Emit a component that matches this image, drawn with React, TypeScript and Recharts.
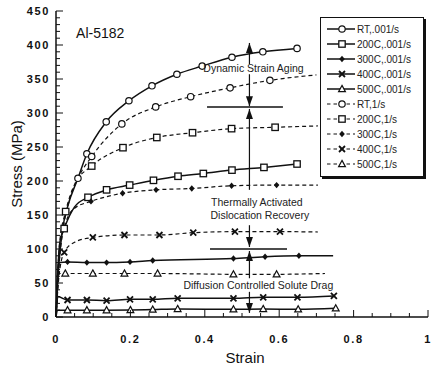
import React from 'react';
import {
  ComposedChart,
  Line,
  XAxis,
  YAxis,
  ReferenceLine,
  ReferenceDot,
  Label
} from 'recharts';

// [strain, stress (MPa), 1 = plotted symbol]
const RT_SLOW = [
  [0, 0, 0], [0.008, 80, 0], [0.018, 130, 0], [0.03, 160, 0], [0.059, 204, 1], [0.083, 240, 1],
  [0.135, 287, 1], [0.196, 318, 1], [0.258, 340, 1], [0.325, 357, 1], [0.393, 369, 1],
  [0.473, 382, 1], [0.556, 390, 1], [0.648, 395, 1]
];
const C200_SLOW = [
  [0, 0, 0], [0.005, 70, 0], [0.011, 112, 0], [0.022, 130, 1], [0.05, 162, 0], [0.086, 176, 1],
  [0.136, 187, 1], [0.198, 194, 1], [0.262, 201, 1], [0.328, 207, 1], [0.396, 211, 1],
  [0.473, 216, 1], [0.559, 220, 1], [0.648, 225, 1]
];
const C300_SLOW = [
  [0, 0, 0], [0.004, 60, 0], [0.01, 80, 0], [0.031, 81, 1], [0.083, 80, 1], [0.136, 80, 1],
  [0.199, 81, 1], [0.26, 83, 1], [0.477, 86, 1], [0.562, 88.7, 1], [0.653, 90, 1], [0.745, 90, 0]
];
const C400_SLOW = [
  [0, 0, 0], [0.005, 30, 0], [0.031, 25, 1], [0.083, 25, 1], [0.136, 24, 1], [0.199, 26, 1],
  [0.26, 26, 1], [0.327, 27.5, 1], [0.477, 27.5, 1], [0.557, 29, 1], [0.649, 29, 1], [0.747, 31, 1]
];
const C500_SLOW = [
  [0, 0, 0], [0.004, 10, 0], [0.031, 10, 1], [0.083, 10, 1], [0.136, 10, 1], [0.2, 10.3, 1],
  [0.26, 11, 1], [0.327, 11.8, 1], [0.477, 11.3, 1], [0.557, 11.8, 1], [0.651, 11.3, 1], [0.752, 12.8, 1]
];
const RT_FAST = [
  [0, 0, 0], [0.008, 75, 0], [0.018, 125, 0], [0.035, 170, 0], [0.06, 205, 0], [0.096, 236, 1],
  [0.177, 284, 1], [0.268, 309, 1], [0.362, 324, 1], [0.468, 337, 1], [0.575, 348, 1], [0.7, 356, 0]
];
const C200_FAST = [
  [0, 0, 0], [0.01, 110, 0], [0.026, 155, 1], [0.05, 195, 0], [0.096, 222, 1], [0.18, 249, 1],
  [0.271, 264, 1], [0.367, 271, 1], [0.472, 277, 1], [0.589, 279, 1], [0.704, 281, 0]
];
const C300_FAST = [
  [0, 0, 0], [0.008, 90, 0], [0.027, 140, 0], [0.05, 160, 0], [0.094, 170, 1], [0.179, 182, 1],
  [0.269, 187, 1], [0.365, 189, 1], [0.472, 193, 1], [0.593, 194, 1], [0.704, 194, 0]
];
const C400_FAST = [
  [0, 0, 0], [0.008, 60, 0], [0.022, 95, 1], [0.05, 110, 0], [0.099, 117, 1], [0.184, 120.6, 1],
  [0.278, 120.6, 1], [0.369, 124, 1], [0.481, 125.5, 1], [0.602, 125.5, 1], [0.704, 125, 0]
];
const C500_FAST = [
  [0, 0, 0], [0.006, 64, 0], [0.025, 64, 1], [0.099, 64, 1], [0.184, 64, 1], [0.273, 64, 1],
  [0.477, 62.8, 1], [0.593, 62.8, 1], [0.723, 64, 0]
];

const SERIES = [
  { name: 'RT,.001/s', pts: RT_SLOW, dashed: false, sym: 'circle' },
  { name: '200C,.001/s', pts: C200_SLOW, dashed: false, sym: 'square' },
  { name: '300C,.001/s', pts: C300_SLOW, dashed: false, sym: 'diamond' },
  { name: '400C,.001/s', pts: C400_SLOW, dashed: false, sym: 'cross' },
  { name: '500C,.001/s', pts: C500_SLOW, dashed: false, sym: 'triangle' },
  { name: 'RT,1/s', pts: RT_FAST, dashed: true, sym: 'circle' },
  { name: '200C,1/s', pts: C200_FAST, dashed: true, sym: 'square' },
  { name: '300C,1/s', pts: C300_FAST, dashed: true, sym: 'diamond' },
  { name: '400C,1/s', pts: C400_FAST, dashed: true, sym: 'cross' },
  { name: '500C,1/s', pts: C500_FAST, dashed: true, sym: 'triangle' }
];

const X_TICKS = [0, 0.05, 0.1, 0.15, 0.2, 0.25, 0.3, 0.35, 0.4, 0.45, 0.5, 0.55, 0.6, 0.65, 0.7, 0.75, 0.8, 0.85, 0.9, 0.95, 1];
const Y_LABELS = [0, 50, 100, 150, 200, 250, 300, 350, 400, 450];
const Y_TICKS = Array.from({ length: 46 }, (_, i) => i * 10);

// annotation: vertical arrows at one strain, [from, to] MPa with head at "to"
const ARROW_X = 0.52;
const ARROWS = [[372, 403], [357, 310], [187, 306], [135, 103], [57, 97], [37, 6]];
const BARS = [[0.406, 0.61, 309], [0.414, 0.621, 100]];
const NOTES = [
  { x: 0.531, y: 366, text: 'Dynamic Strain Aging' },
  { x: 0.54, y: 168, text: 'Thermally Activated' },
  { x: 0.548, y: 149, text: 'Dislocation Recovery' },
  { x: 0.544, y: 46, text: 'Diffusion Controlled Solute Drag' }
];

const INK = '#111';
const FONT = '"Liberation Sans", Arial, Helvetica, sans-serif';

const Sym = ({ kind, cx, cy }: { kind: string; cx: number; cy: number }) => {
  switch (kind) {
    case 'circle':
      return <circle cx={cx} cy={cy} r={3.2} fill="#fff" stroke={INK} strokeWidth={1.2} />;
    case 'square':
      return <rect x={cx - 3.2} y={cy - 3.2} width={6.4} height={6.4} fill="#fff" stroke={INK} strokeWidth={1.3} />;
    case 'diamond':
      return <path d={`M${cx},${cy - 3.2}L${cx + 2.8},${cy}L${cx},${cy + 3.2}L${cx - 2.8},${cy}Z`} fill={INK} />;
    case 'cross':
      return <path d={`M${cx - 3},${cy - 3}L${cx + 3},${cy + 3}M${cx - 3},${cy + 3}L${cx + 3},${cy - 3}`} stroke={INK} strokeWidth={1.8} />;
    default:
      return <path d={`M${cx},${cy - 3.6}L${cx + 3.4},${cy + 2.6}L${cx - 3.4},${cy + 2.6}Z`} fill="#fff" stroke={INK} strokeWidth={1.2} />;
  }
};

const isMajorX = (v: number) => Math.abs(v * 5 - Math.round(v * 5)) < 1e-6;

const LeftTick = ({ x, y, payload }: any) => {
  const major = payload.value % 50 === 0;
  return (
    <g>
      <line x1={x} x2={x + (major ? 7 : 4)} y1={y} y2={y} stroke={INK} />
      {major && (
        <text x={x - 6} y={y + 4} textAnchor="end" fontFamily={FONT} fontWeight="bold" fontSize={11} letterSpacing={1.6} fill={INK}>
          {payload.value}
        </text>
      )}
    </g>
  );
};

const RightTick = ({ x, y, payload }: any) => {
  const major = payload.value % 50 === 0;
  return <line x1={x} x2={x - (major ? 7 : 4)} y1={y} y2={y} stroke={INK} />;
};

const BottomTick = ({ x, y, payload }: any) => {
  const major = isMajorX(payload.value);
  return (
    <g>
      <line x1={x} x2={x} y1={y} y2={y - (major ? 7 : 4)} stroke={INK} />
      {major && (
        <text x={x} y={y + 26} textAnchor="middle" fontFamily={FONT} fontWeight="bold" fontSize={11} letterSpacing={1.6} fill={INK}>
          {payload.value === 0 ? '0' : payload.value === 1 ? '1' : payload.value}
        </text>
      )}
    </g>
  );
};

const TopTick = ({ x, y, payload }: any) => {
  const major = isMajorX(payload.value);
  return <line x1={x} x2={x} y1={y} y2={y + (major ? 7 : 4)} stroke={INK} />;
};

const Head = ({ cx, cy, up }: any) => {
  const d = up
    ? `M${cx},${cy}L${cx + 3.5},${cy + 10}L${cx - 3.5},${cy + 10}Z`
    : `M${cx},${cy}L${cx + 3.5},${cy - 10}L${cx - 3.5},${cy - 10}Z`;
  return <path d={d} fill={INK} />;
};

const LegendBox = () => (
  <div
    style={{
      position: 'absolute',
      left: 320,
      top: 17,
      width: 104,
      height: 160,
      border: `1.5px solid ${INK}`,
      boxShadow: `2px 2px 0 ${INK}`,
      background: '#fff',
      boxSizing: 'border-box'
    }}
  >
    <svg width={102} height={157}>
      {SERIES.map((s, i) => {
        const y = 11 + i * 15;
        return (
          <g key={s.name}>
            <line x1={6} x2={34} y1={y} y2={y} stroke={INK} strokeWidth={s.dashed ? 1.2 : 1.5} strokeDasharray={s.dashed ? '3.5 3' : undefined} />
            <Sym kind={s.sym} cx={21} cy={y} />
            <text x={36} y={y + 3.5} fontFamily={FONT} fontSize={10} fill="#222">{s.name}</text>
          </g>
        );
      })}
    </svg>
  </div>
);

export default function App() {
  return (
    <div style={{ position: 'absolute', left: 0, top: 0, width: 441, height: 369, background: '#fff' }}>
      <ComposedChart width={441} height={369} margin={{ top: 11, right: 13, bottom: 0, left: 0 }}>
        <XAxis
          xAxisId={0}
          type="number"
          dataKey="strain"
          domain={[0, 1]}
          ticks={X_TICKS}
          interval={0}
          height={52}
          tickSize={0}
          tickMargin={0}
          tickLine={false}
          tick={<BottomTick />}
          axisLine={{ stroke: INK, strokeWidth: 1.5 }}
        >
          <Label
            content={({ viewBox }: any) => (
              <text x={viewBox.x + viewBox.width / 2 + 3} y={viewBox.y + 46} textAnchor="middle" fontFamily={FONT} fontSize={15} fill={INK}>
                Strain
              </text>
            )}
          />
        </XAxis>
        <XAxis
          xAxisId="t"
          orientation="top"
          type="number"
          domain={[0, 1]}
          ticks={X_TICKS}
          interval={0}
          height={0}
          tickSize={0}
          tickMargin={0}
          tickLine={false}
          tick={<TopTick />}
          axisLine={{ stroke: INK, strokeWidth: 1.5 }}
        />
        <YAxis
          yAxisId={0}
          type="number"
          domain={[0, 450]}
          ticks={Y_TICKS}
          interval={0}
          width={56}
          tickSize={0}
          tickMargin={0}
          tickLine={false}
          tick={<LeftTick />}
          axisLine={{ stroke: INK, strokeWidth: 1.5 }}
        >
          <Label
            content={({ viewBox }: any) => {
              const cx = 16;
              const cy = viewBox.y + viewBox.height / 2;
              return (
                <text x={cx} y={cy} transform={`rotate(-90 ${cx} ${cy})`} textAnchor="middle" dominantBaseline="central" fontFamily={FONT} fontSize={15} fill={INK}>
                  Stress (MPa)
                </text>
              );
            }}
          />
        </YAxis>
        <YAxis
          yAxisId="r"
          orientation="right"
          type="number"
          domain={[0, 450]}
          ticks={Y_TICKS}
          interval={0}
          width={0}
          tickSize={0}
          tickMargin={0}
          tickLine={false}
          tick={<RightTick />}
          axisLine={{ stroke: INK, strokeWidth: 1.5 }}
        />

        {SERIES.map((s) => (
          <Line
            key={s.name}
            data={s.pts.map(([strain, stress, sym]) => ({ strain, stress, sym }))}
            dataKey="stress"
            type="monotone"
            stroke={INK}
            strokeWidth={s.dashed ? 1.2 : 1.5}
            strokeDasharray={s.dashed ? '4 3' : undefined}
            dot={(p: any) =>
              p.payload.sym ? <Sym key={p.index} kind={s.sym} cx={p.cx} cy={p.cy} /> : <g key={p.index} />
            }
            activeDot={false}
            isAnimationActive={false}
          />
        ))}

        {ARROWS.map(([from, to], i) => (
          <ReferenceLine key={`a${i}`} segment={[{ x: ARROW_X, y: from }, { x: ARROW_X, y: to }]} stroke={INK} strokeWidth={1.2} />
        ))}
        {ARROWS.map(([from, to], i) => (
          <ReferenceDot key={`h${i}`} x={ARROW_X} y={to} shape={(p: any) => <Head cx={p.cx} cy={p.cy} up={to > from} />} />
        ))}
        {BARS.map(([x1, x2, y], i) => (
          <ReferenceLine key={`b${i}`} segment={[{ x: x1, y }, { x: x2, y }]} stroke={INK} strokeWidth={1.5} />
        ))}
        {NOTES.map((n) => (
          <ReferenceDot
            key={n.text}
            x={n.x}
            y={n.y}
            shape={(p: any) => (
              <text x={p.cx} y={p.cy + 3.5} textAnchor="middle" fontFamily={FONT} fontSize={10.5} fill="#222">
                {n.text}
              </text>
            )}
          />
        ))}
        <ReferenceDot
          x={0.054}
          y={418}
          shape={(p: any) => (
            <text x={p.cx} y={p.cy + 5} fontFamily={FONT} fontSize={14} fill={INK}>
              Al-5182
            </text>
          )}
        />
      </ComposedChart>
      <LegendBox />
    </div>
  );
}
